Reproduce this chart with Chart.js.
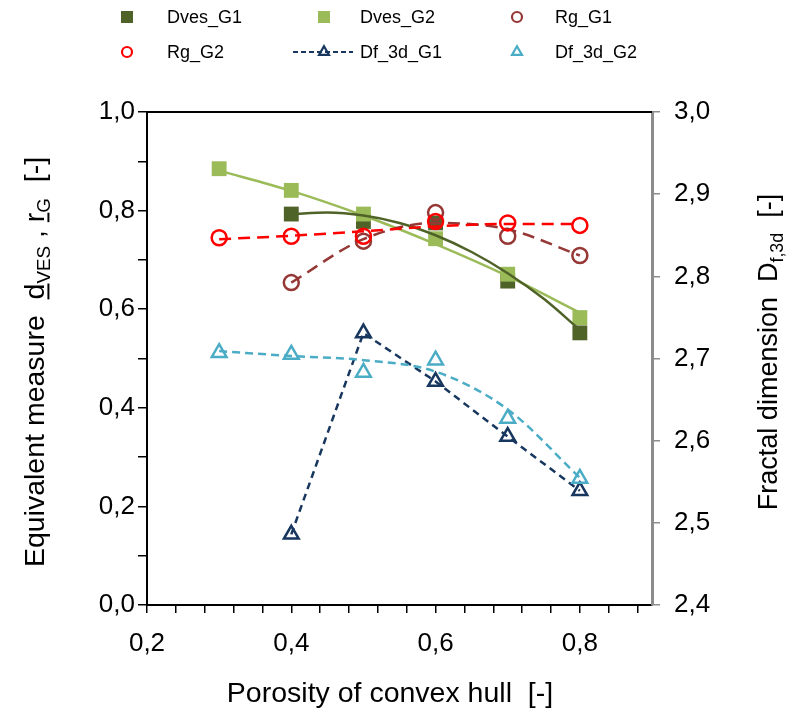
<!DOCTYPE html>
<html>
<head>
<meta charset="utf-8">
<script src="https://cdn.jsdelivr.net/npm/chart.js@4.4.1/dist/chart.umd.min.js"></script>
<style>
  html, body { margin: 0; padding: 0; background: #fff; }
  #wrap { width: 792px; height: 709px; position: relative; }
</style>
</head>
<body>
<div id="wrap"><canvas id="c" width="792" height="709"></canvas></div>
<script>
// Porosity of convex hull (x) for every measured sample
const porosity = [0.3, 0.4, 0.5, 0.6, 0.7, 0.8];

// Equivalent measures (left axis); null = no sample at that porosity
const dvesG1 = [null, 0.793, 0.778, 0.775, 0.657, 0.552];
const dvesG2 = [0.885, 0.841, 0.793, 0.743, 0.671, 0.583];
const rgG1   = [null, 0.654, 0.738, 0.796, 0.748, 0.709];
const rgG2   = [0.745, 0.748, 0.748, 0.778, 0.775, 0.770];

// Fractal dimension (right axis)
const df3dG1 = [null, 2.486, 2.731, 2.672, 2.605, 2.539];
const df3dG2 = [2.707, 2.705, 2.683, 2.698, 2.627, 2.554];

// Trend curves
const trendDvesG1X = [0.4, 0.45, 0.5, 0.55, 0.6, 0.65, 0.7, 0.75, 0.8];
const trendDvesG1  = [0.793, 0.796, 0.790, 0.775, 0.750, 0.716, 0.673, 0.621, 0.558];
const trendDvesG2  = [0.881, 0.840, 0.790, 0.732, 0.667, 0.593];
const trendRgG1    = [null, 0.654, 0.742, 0.775, 0.762, 0.709];
const trendRgG2    = [0.742, 0.749, 0.758, 0.768, 0.773, 0.773];
const trendDf3dG2  = [2.709, 2.703, 2.698, 2.684, 2.638, 2.555];

// Axis ticks
const xMajorTicks = [0.2, 0.4, 0.6, 0.8];
const xMinorStep = 0.04;

const C = {
  dvesG1: '#4F6228',
  dvesG2: '#9BBB59',
  rgG1: '#953735',
  rgG2: '#FF0000',
  dfG1: '#17375E',
  dfG2: '#4BACC6'
};

function pts(xs, ys) {
  const out = [];
  xs.forEach((x, i) => { if (ys[i] !== null && ys[i] !== undefined) out.push({ x: x, y: ys[i] }); });
  return out;
}
const comma = v => v.toFixed(1).replace('.', ',');

const FONT = '"Liberation Sans", Arial, sans-serif';

function markerSet(label, data, color, style, radius, axis, order) {
  const filled = style === 'rect';
  return {
    label: label,
    data: data,
    yAxisID: axis,
    showLine: false,
    pointStyle: style,
    pointRadius: radius,
    pointBorderWidth: filled ? 0 : 2.5,
    pointBorderColor: color,
    pointBackgroundColor: filled ? color : 'rgba(0,0,0,0)',
    borderColor: color,
    order: order
  };
}
function trendSet(label, data, color, dash, width, axis, order) {
  return {
    label: label,
    data: data,
    yAxisID: axis,
    showLine: true,
    pointRadius: 0,
    borderColor: color,
    borderWidth: width,
    borderDash: dash,
    cubicInterpolationMode: 'monotone',
    fill: false,
    order: order
  };
}

const datasets = [
  trendSet('trend Dves_G1', pts(trendDvesG1X, trendDvesG1), C.dvesG1, [], 2.5, 'y', 5),
  trendSet('trend Dves_G2', pts(porosity, trendDvesG2), C.dvesG2, [], 2.5, 'y', 6),
  trendSet('trend Rg_G1', pts(porosity, trendRgG1), C.rgG1, [12, 7], 2.5, 'y', 3),
  trendSet('trend Rg_G2', pts(porosity, trendRgG2), C.rgG2, [12, 7], 2.5, 'y', 2),
  trendSet('trend Df_3d_G2', pts(porosity, trendDf3dG2), C.dfG2, [8, 5], 2.5, 'y2', 1),
  markerSet('Dves_G1', pts(porosity, dvesG1), C.dvesG1, 'rect', 10.5, 'y', 8),
  markerSet('Dves_G2', pts(porosity, dvesG2), C.dvesG2, 'rect', 10.5, 'y', 7),
  markerSet('Rg_G1', pts(porosity, rgG1), C.rgG1, 'circle', 7.5, 'y', 4),
  markerSet('Rg_G2', pts(porosity, rgG2), C.rgG2, 'circle', 7.5, 'y', 2),
  Object.assign(markerSet('Df_3d_G1', pts(porosity, df3dG1), C.dfG1, 'triangle', 8.5, 'y2', 1), {
    showLine: true, borderWidth: 2.5, borderDash: [7, 5], tension: 0
  }),
  markerSet('Df_3d_G2', pts(porosity, df3dG2), C.dfG2, 'triangle', 8.5, 'y2', 0)
];

// Legend entries, drawn in a 3-column grid above the plot
const legendEntries = [
  { label: 'Dves_G1', color: C.dvesG1, style: 'rect' },
  { label: 'Dves_G2', color: C.dvesG2, style: 'rect' },
  { label: 'Rg_G1', color: C.rgG1, style: 'circle' },
  { label: 'Rg_G2', color: C.rgG2, style: 'circle' },
  { label: 'Df_3d_G1', color: C.dfG1, style: 'triangle', line: true },
  { label: 'Df_3d_G2', color: C.dfG2, style: 'triangle' }
];

function drawMarker(ctx, style, color, x, y, r) {
  ctx.save();
  ctx.setLineDash([]);
  ctx.lineWidth = 2.2;
  ctx.strokeStyle = color;
  ctx.fillStyle = color;
  ctx.beginPath();
  if (style === 'rect') {
    ctx.fillRect(x - r, y - r, 2 * r, 2 * r);
  } else if (style === 'circle') {
    ctx.arc(x, y, r, 0, Math.PI * 2);
    ctx.stroke();
  } else {
    const R = r * 1.15;
    ctx.moveTo(x, y - R);
    ctx.lineTo(x + R * 0.866, y + R * 0.5);
    ctx.lineTo(x - R * 0.866, y + R * 0.5);
    ctx.closePath();
    ctx.stroke();
  }
  ctx.restore();
}

// Rich text: segments with optional subscript / underline, along a rotated baseline
function drawRich(ctx, segs, cx, cy, rot, size) {
  ctx.save();
  ctx.translate(cx, cy);
  ctx.rotate(rot);
  ctx.fillStyle = '#000';
  ctx.textBaseline = 'alphabetic';
  ctx.textAlign = 'left';
  let total = 0;
  const widths = segs.map(s => {
    ctx.font = (s.sub ? size * 0.66 : size) + 'px ' + FONT;
    const w = ctx.measureText(s.t).width;
    total += w;
    return w;
  });
  let x = -total / 2;
  segs.forEach((s, i) => {
    const fs = s.sub ? size * 0.66 : size;
    ctx.font = fs + 'px ' + FONT;
    const dy = s.sub ? size * 0.22 : 0;
    ctx.fillText(s.t, x, dy);
    if (s.ul) {
      ctx.fillRect(x, dy + size * 0.12, widths[i], Math.max(1.5, size * 0.07));
    }
    x += widths[i];
  });
  ctx.restore();
}

const decorPlugin = {
  id: 'decor',
  beforeDatasetsDraw(chart) {
    const { ctx, chartArea } = chart;
    ctx.save();
    ctx.strokeStyle = '#000';
    ctx.lineWidth = 2;
    ctx.beginPath();
    ctx.moveTo(chartArea.left, chartArea.top);
    ctx.lineTo(chartArea.right, chartArea.top);
    ctx.stroke();
    ctx.restore();
  },
  afterDraw(chart) {
    const ctx = chart.ctx;
    // legend
    const colMarker = [127, 324, 517];
    const colText = [167, 360, 555];
    const rowY = [17, 52];
    ctx.save();
    ctx.font = '18px ' + FONT;
    ctx.fillStyle = '#000';
    ctx.textBaseline = 'middle';
    legendEntries.forEach((e, i) => {
      const col = i % 3, row = Math.floor(i / 3);
      const mx = colMarker[col], y = rowY[row];
      if (e.line) {
        ctx.save();
        ctx.strokeStyle = e.color;
        ctx.lineWidth = 2.2;
        ctx.setLineDash([5, 3]);
        ctx.beginPath();
        ctx.moveTo(mx - 31, y);
        ctx.lineTo(mx + 29, y);
        ctx.stroke();
        ctx.restore();
      }
      drawMarker(ctx, e.style, e.color, mx, y, e.style === 'rect' ? 6 : 5);
      ctx.fillStyle = '#000';
      ctx.fillText(e.label, colText[col], y + 1);
    });
    ctx.restore();

    // axis titles
    drawRich(ctx, [{ t: 'Porosity of convex hull  [-]' }], 390, 702, 0, 28.5);
    drawRich(ctx, [
      { t: 'Equivalent measure  ' },
      { t: 'd', ul: true }, { t: 'VES', sub: true },
      { t: ' , ' },
      { t: 'r', ul: true }, { t: 'G', sub: true },
      { t: '  [-]' }
    ], 44, 362, -Math.PI / 2, 28.5);
    drawRich(ctx, [
      { t: 'Fractal dimension  D' },
      { t: 'f,3d', sub: true },
      { t: '  [-]' }
    ], 777, 352, -Math.PI / 2, 27);
  }
};

new Chart(document.getElementById('c'), {
  type: 'scatter',
  data: { datasets: datasets },
  plugins: [decorPlugin],
  options: {
    responsive: false,
    animation: false,
    events: [],
    layout: { padding: { top: 112, left: 0, right: 0, bottom: 0 } },
    plugins: { legend: { display: false }, tooltip: { enabled: false } },
    scales: {
      x: {
        type: 'linear',
        position: 'bottom',
        min: 0.2,
        max: 0.9,
        afterFit(s) { s.height = 104; },
        afterBuildTicks(s) {
          const t = [];
          for (let i = 0; i * xMinorStep <= 0.68 + 1e-9; i++) t.push({ value: +(0.2 + i * xMinorStep).toFixed(2) });
          s.ticks = t;
        },
        border: { color: '#000', width: 2 },
        grid: { drawOnChartArea: false, drawTicks: true, tickLength: 8, color: '#000', lineWidth: 1.5 },
        ticks: {
          autoSkip: false, maxRotation: 0, padding: 15, color: '#000',
          font: { family: FONT, size: 26 },
          callback(v) {
            const m = xMajorTicks.find(t => Math.abs(t - v) < 1e-6);
            return m !== undefined ? comma(m) : '';
          }
        }
      },
      y: {
        position: 'left',
        min: 0, max: 1,
        afterFit(s) { s.width = 147; },
        border: { color: '#000', width: 2 },
        grid: { drawOnChartArea: false, drawTicks: true, tickLength: 9, color: '#000', lineWidth: 1.5 },
        ticks: {
          stepSize: 0.1, padding: 3, color: '#000',
          font: { family: FONT, size: 26 },
          callback(v) {
            const k = Math.round(v * 10);
            return k % 2 === 0 ? comma(k / 10) : '';
          }
        }
      },
      y2: {
        position: 'right',
        min: 2.4, max: 3.0,
        afterFit(s) { s.width = 140; },
        border: { color: '#8C8C8C', width: 3 },
        grid: { drawOnChartArea: false, drawTicks: true, tickLength: 8, color: '#8C8C8C', lineWidth: 1.5 },
        ticks: {
          stepSize: 0.1, padding: 14, color: '#000',
          font: { family: FONT, size: 26 },
          callback(v) { return comma(Math.round(v * 10) / 10); }
        }
      }
    }
  }
});
</script>
</body>
</html>
